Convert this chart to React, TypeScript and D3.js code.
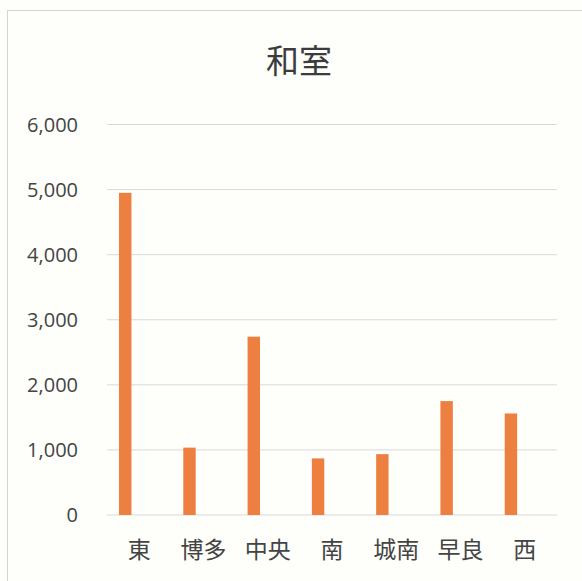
import React from "react";
import * as d3 from "d3";

const title = "和室";
const categories = ["東", "博多", "中央", "南", "城南", "早良", "西"];
const values = [4950, 1035, 2740, 870, 935, 1750, 1560];
const yTicks = [0, 1000, 2000, 3000, 4000, 5000, 6000];
const seriesSlots = ["和室", "slot2", "slot3"];

const W = 582;
const H = 581;
const plot = { left: 107, right: 557, top: 124.5, bottom: 515 };

export default function App() {
  const x = d3
    .scaleBand<string>()
    .domain(categories)
    .range([plot.left, plot.right])
    .paddingInner(0.42)
    .paddingOuter(0.21);
  const xs = d3.scaleBand<string>().domain(seriesSlots).range([0, x.bandwidth()]);
  const y = d3.scaleLinear().domain([0, 6000]).range([plot.bottom, plot.top]);
  const fmt = d3.format(",");
  const font = "'Noto Sans CJK JP', 'Noto Sans', sans-serif";
  const step = x.step();

  return (
    <svg
      width={W}
      height={H}
      style={{ position: "absolute", left: 0, top: 0, background: "#fefefb" }}
    >
      <rect x={0} y={0} width={W} height={H} fill="#fefefb" />
      <rect x={7.5} y={10.5} width={W} height={H} fill="none" stroke="#d4d4d4" strokeWidth={1} />
      <text
        x={299}
        y={73}
        textAnchor="middle"
        fontFamily={font}
        fontSize={33}
        fill="#3c3c3c"
      >
        {title}
      </text>
      {yTicks.map((t) => (
        <g key={t}>
          <line
            x1={plot.left}
            x2={plot.right}
            y1={y(t)}
            y2={y(t)}
            stroke="#d9d9d9"
            strokeWidth={1}
          />
          <text
            x={78}
            y={y(t)}
            dy="0.36em"
            textAnchor="end"
            fontFamily="'Open Sans', 'Noto Sans', sans-serif"
            fontSize={20}
            fill="#444"
          >
            {fmt(t)}
          </text>
        </g>
      ))}
      {categories.map((c, i) => (
        <rect
          key={c}
          x={(x(c) as number) + (xs(seriesSlots[0]) as number) - 1.5}
          y={y(values[i])}
          width={xs.bandwidth()}
          height={y(0) - y(values[i])}
          fill="#ED8040"
        />
      ))}
      {categories.map((c) => (
        <text
          key={c}
          x={(x(c) as number) - (step - x.bandwidth()) / 2 + step / 2}
          y={558}
          textAnchor="middle"
          fontFamily={font}
          fontSize={23}
          fill="#444"
        >
          {c}
        </text>
      ))}
    </svg>
  );
}
